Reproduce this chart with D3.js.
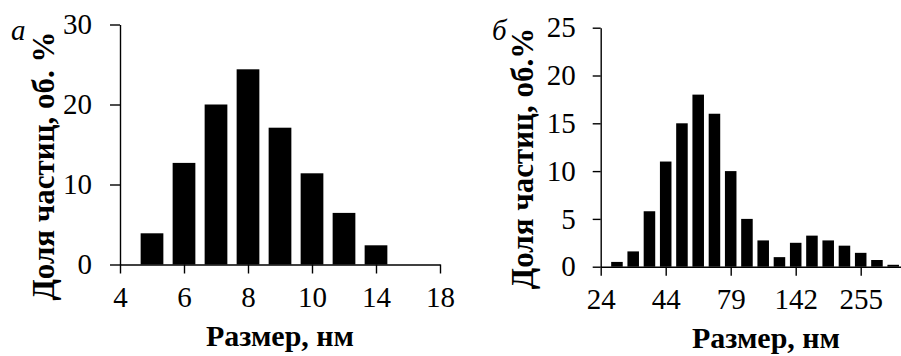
<!DOCTYPE html>
<html><head><meta charset="utf-8">
<script src="https://cdn.jsdelivr.net/npm/d3@7"></script>
<style>
body{margin:0;background:#fff;}
svg{display:block;}
</style></head>
<body><svg id="c" width="901" height="356" font-family="Liberation Serif, Times New Roman, DejaVu Serif, serif"></svg>
<script>
// Panel a
const aTickLabels = ["4","6","8","10","14","18"];
const aValues = [3.9, 12.7, 20.0, 24.4, 17.1, 11.4, 6.45, 2.4];
const aYTicks = [0, 10, 20, 30];
// Panel б
const bTickLabels = ["24","44","79","142","255"];
const bValues = [0.5, 1.6, 5.8, 11.0, 15.0, 18.0, 16.0, 10.0, 5.0, 2.75, 1.0, 2.5, 3.25, 2.75, 2.2, 1.45, 0.7, 0.2];
const bYTicks = [0, 5, 10, 15, 20, 25];

const FONT = "Liberation Serif, Times New Roman, DejaVu Serif, serif";
const svg = d3.select("#c");

function panel(o){
  const g = svg.append("g").attr("font-family", FONT);
  const x = d3.scaleLinear().domain([0, o.nBins]).range([o.x0, o.x1]);
  const y = d3.scaleLinear().domain([0, o.yMax]).range([o.y0, o.y1]);
  const bw = (x(1) - x(0)) * 0.71;
  g.selectAll("rect").data(o.values).enter().append("rect")
    .attr("x", (d,i) => x(i+1) - bw/2)
    .attr("width", bw)
    .attr("y", d => y(d))
    .attr("height", d => y(0) - y(d))
    .attr("fill", "#000");
  const tickIdx = o.tickLabels.map((_, i) => i * o.tickStep);
  const xa = g.append("g").attr("transform", `translate(0,${o.y0})`)
    .call(d3.axisBottom(x).tickValues(tickIdx).tickFormat((d,i) => o.tickLabels[i])
      .tickSize(9).tickSizeOuter(0).tickPadding(13));
  const ya = g.append("g").attr("transform", `translate(${o.x0},0)`)
    .call(d3.axisLeft(y).tickValues(o.yTicks).tickSize(o.yTickSize).tickSizeOuter(0).tickPadding(o.yPad));
  [xa, ya].forEach(a => {
    a.attr("font-family", FONT).attr("font-size", 29);
    a.selectAll("path,line").attr("stroke", "#000").attr("stroke-width", 1.4);
    a.selectAll("text").attr("font-family", FONT).attr("font-size", 29).attr("fill", "#000");
  });
  g.append("text").attr("x", o.xtX).attr("y", o.xtY).attr("text-anchor", "middle")
    .attr("font-family", FONT).attr("font-size", 30).attr("font-weight", "bold").text("Размер, нм");
  g.append("text").attr("transform", `translate(${o.ytX},${o.ytY}) rotate(-90)`)
    .attr("text-anchor", "middle").attr("font-family", FONT).attr("font-size", 31).attr("font-weight", "bold").text(o.yTitle);
  g.append("text").attr("x", o.lX).attr("y", 40).attr("font-family", FONT).attr("font-size", 29)
    .attr("font-style", "italic").text(o.letter);
}

panel({values: aValues, tickLabels: aTickLabels, yTicks: aYTicks, nBins: 10, tickStep: 2, yMax: 30,
  x0: 120, x1: 440, y0: 264.5, y1: 24.5, yTickSize: 10, yPad: 18,
  xtX: 280, xtY: 346, ytX: 54, ytY: 166, yTitle: "Доля частиц, об. %", letter: "а", lX: 11});

panel({values: bValues, tickLabels: bTickLabels, yTicks: bYTicks, nBins: 20, tickStep: 4, yMax: 25,
  x0: 600.7, x1: 925.7, y0: 266.7, y1: 27.7, yTickSize: 8, yPad: 17,
  xtX: 766, xtY: 348, ytX: 533, ytY: 158.5, yTitle: "Доля частиц, об.%", letter: "б", lX: 492});
</script></body></html>
